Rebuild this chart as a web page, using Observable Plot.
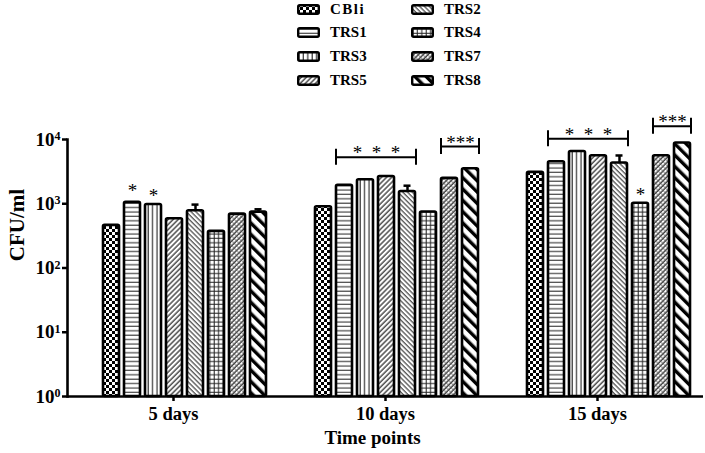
<!DOCTYPE html>
<html><head><meta charset="utf-8">
<script src="https://cdn.jsdelivr.net/npm/d3@7"></script>
<script src="https://cdn.jsdelivr.net/npm/@observablehq/plot@0.6"></script>
<style>
body{margin:0;background:#fff;font-family:"Liberation Serif","Times New Roman",serif;}
#legend{position:relative;width:705px;height:100px;}
.li{position:absolute;height:20px;display:flex;align-items:center;font-weight:bold;font-size:15px;color:#000;}
.li svg{margin-right:10px;display:block;}
</style></head><body>
<svg width="0" height="0" style="position:absolute">
<defs>
<pattern id="p-CBli" width="6" height="6" patternUnits="userSpaceOnUse">
 <rect width="6" height="6" fill="#fff"/><rect width="3" height="3" fill="#000"/><rect x="3" y="3" width="3" height="3" fill="#000"/>
</pattern>
<pattern id="p-TRS1" width="6" height="4.4" patternUnits="userSpaceOnUse">
 <rect width="6" height="4.4" fill="#fff"/><line x1="0" x2="6" y1="2" y2="2" stroke="#444" stroke-width="1.2"/>
</pattern>
<pattern id="p-TRS3" width="4.4" height="6" patternUnits="userSpaceOnUse">
 <rect width="4.4" height="6" fill="#fff"/><line x1="2" x2="2" y1="0" y2="6" stroke="#333" stroke-width="1.2"/>
</pattern>
<pattern id="p-TRS5" width="3.6" height="3.6" patternUnits="userSpaceOnUse" patternTransform="rotate(45)">
 <rect width="3.6" height="3.6" fill="#fff"/><line x1="1" x2="1" y1="0" y2="3.6" stroke="#222" stroke-width="1.2"/>
</pattern>
<pattern id="p-TRS2" width="3.4" height="3.4" patternUnits="userSpaceOnUse" patternTransform="rotate(-45)">
 <rect width="3.4" height="3.4" fill="#fff"/><line x1="1" x2="1" y1="0" y2="3.4" stroke="#333" stroke-width="1.1"/>
</pattern>
<pattern id="p-TRS4" width="4.4" height="4.4" patternUnits="userSpaceOnUse">
 <rect width="4.4" height="4.4" fill="#fff"/><line x1="2" x2="2" y1="0" y2="4.4" stroke="#222" stroke-width="1"/><line x1="0" x2="4.4" y1="2" y2="2" stroke="#222" stroke-width="1"/>
</pattern>
<pattern id="p-TRS7" width="3.4" height="3.4" patternUnits="userSpaceOnUse" patternTransform="rotate(45)">
 <rect width="3.4" height="3.4" fill="#fff"/><line x1="1" x2="1" y1="0" y2="3.4" stroke="#222" stroke-width="1.2"/><line x1="0" x2="3.4" y1="1" y2="1" stroke="#555" stroke-width="0.7"/>
</pattern>
<pattern id="p-TRS8" width="8" height="8" patternUnits="userSpaceOnUse" patternTransform="rotate(-45)">
 <rect width="8" height="8" fill="#fff"/><rect x="0" y="0" width="3.4" height="8" fill="#000"/>
</pattern>
</defs></svg>
<div id="legend"></div>
<div id="chart"></div>
<script>
// ---- data ----
const groups = ["5 days", "10 days", "15 days"];
const series = ["CBli", "TRS1", "TRS3", "TRS5", "TRS2", "TRS4", "TRS7", "TRS8"];
const legendLeft = ["CBli", "TRS1", "TRS3", "TRS5"];
const legendRight = ["TRS2", "TRS4", "TRS7", "TRS8"];
const values5 = [460, 1050, 975, 585, 780, 372, 690, 740];
const values10 = [900, 1930, 2360, 2660, 1550, 745, 2480, 3500];
const values15 = [3080, 4500, 6500, 5600, 4300, 1020, 5600, 8800];
const err5 = [0, 0, 0, 0, 190, 0, 0, 80];
const err10 = [0, 0, 0, 0, 360, 0, 0, 0];
const err15 = [0, 0, 0, 0, 1340, 0, 0, 0];
const yTicks = [1, 10, 100, 1000, 10000];
const yTickLabels = ["10^0", "10^1", "10^2", "10^3", "10^4"];
const singleStars = [
  {group: "5 days", series: "TRS1", y: 1920, label: "*"},
  {group: "5 days", series: "TRS3", y: 1560, label: "*"},
  {group: "15 days", series: "TRS4", y: 1660, label: "*"}
];
const brackets = [
  {group: "10 days", from: "TRS1", to: "TRS2", mid: "TRS3", y: 5300, label: "*\u00a0\u00a0*\u00a0\u00a0*"},
  {group: "10 days", from: "TRS7", to: "TRS8", mid: "TRS7", y: 7780, label: "***"},
  {group: "15 days", from: "TRS1", to: "TRS2", mid: "TRS3", y: 10250, label: "*\u00a0\u00a0*\u00a0\u00a0*"},
  {group: "15 days", from: "TRS7", to: "TRS8", mid: "TRS7", y: 16100, label: "***"}
];
const xTitle = "Time points";
const yTitle = "CFU/ml";

// ---- table ----
const valuesByGroup = [values5, values10, values15];
const errByGroup = [err5, err10, err15];
const rows = groups.flatMap((g, gi) => series.map((s, si) => ({
  group: g, series: s, value: valuesByGroup[gi][si], err: errByGroup[gi][si]
})));
const errRows = rows.filter(d => d.err > 0);

// ---- legend ----
const legend = document.getElementById("legend");
const rowTops = [-1, 22, 46, 70];
function addItem(name, swLeft, row) {
  const div = document.createElement("div");
  div.className = "li";
  div.style.left = swLeft + "px";
  div.style.top = rowTops[row] + "px";
  div.innerHTML = `<svg width="23" height="11"><rect x="1.2" y="1.2" width="20.6" height="8.6" rx="1.5" fill="url(#p-${name})" stroke="#000" stroke-width="2.4"/></svg><span${name === "CBli" ? ' style="letter-spacing:1.5px"' : ""}>${name}</span>`;
  legend.appendChild(div);
}
legendLeft.forEach((n, i) => addItem(n, 297, i));
legendRight.forEach((n, i) => addItem(n, 411, i));

// ---- chart ----
const font = "Liberation Serif, Times New Roman, serif";
const chart = Plot.plot({
  width: 705,
  height: 353,
  marginLeft: 66,
  marginRight: 1.5,
  marginTop: 39,
  marginBottom: 57,
  style: {fontFamily: font, background: "transparent", overflow: "visible", color: "#000"},
  fx: {domain: groups, padding: 0, label: null, axis: null},
  x: {domain: series, paddingInner: 0.227, paddingOuter: 0.943, align: 0.747, axis: null},
  y: {type: "log", domain: [1, 10000], axis: null},
  color: {type: "identity"},
  marks: [
    Plot.barY(rows, {fx: "group", x: "series", y1: 1, y2: "value", fill: d => `url(#p-${d.series})`, stroke: "#000", strokeWidth: 2.6, rx: 1.5}),
    Plot.ruleX(errRows, {fx: "group", x: "series", y1: "value", y2: d => d.value + d.err, stroke: "#000", strokeWidth: 2.5}),
    Plot.tickY(errRows, {fx: "group", x: "series", y: d => d.value + d.err, stroke: "#000", strokeWidth: 2.5, insetLeft: 4.5, insetRight: 4.5}),
    Plot.ruleY([1], {stroke: "#000", strokeWidth: 2.6}),
    Plot.frame({anchor: "left", facetAnchor: "left", stroke: "#000", strokeWidth: 2.6}),
    Plot.axisY(yTicks, {anchor: "left", facetAnchor: "left", tickSize: 5, tickPadding: 2, strokeWidth: 2.5,
      tickFormat: d => yTickLabels[yTicks.indexOf(d)], fontSize: 19, fontWeight: "bold", label: null}),
    Plot.axisFx({anchor: "bottom", tickSize: 5, tickPadding: 5, strokeWidth: 2.5, fontSize: 18.5, fontWeight: "bold", label: null}),
    Plot.text(singleStars, {fx: "group", x: "series", y: "y", text: "label", fontSize: 19, dy: 5}),
    Plot.ruleY(brackets, {fx: "group", x1: "from", x2: "to", y: "y", stroke: "#000", strokeWidth: 2}),
    Plot.ruleX(brackets, {fx: "group", x: "from", y1: "y", y2: "y", dx: -8.5, insetTop: -8, insetBottom: -8, stroke: "#000", strokeWidth: 2}),
    Plot.ruleX(brackets, {fx: "group", x: "to", y1: "y", y2: "y", dx: 8.5, insetTop: -8, insetBottom: -8, stroke: "#000", strokeWidth: 2}),
    Plot.text(brackets, {fx: "group", x: "mid", y: "y", text: "label", dx: 11, dy: -4, fontSize: 19}),
    Plot.text([{group: "10 days", label: xTitle}], {fx: "group", text: "label", frameAnchor: "bottom", lineAnchor: "middle", dx: -13, dy: 41, fontSize: 19, fontWeight: "bold"}),
    Plot.text([{group: "5 days", label: yTitle}], {fx: "group", text: "label", frameAnchor: "left", textAnchor: "middle", lineAnchor: "middle", rotate: -90, dx: -50, dy: -43, fontSize: 21, fontWeight: "bold"})
  ]
});
document.getElementById("chart").appendChild(chart);

// superscript exponents on y tick labels
d3.select(chart).selectAll('g[aria-label="y-axis tick label"] text').each(function() {
  const t = d3.select(this);
  const s = t.text();
  if (s.includes("^")) {
    const [base, exp] = s.split("^");
    t.text(base);
    t.append("tspan").attr("dy", "-0.45em").attr("font-size", "12px").text(exp);
  }
});
</script>
</body></html>
